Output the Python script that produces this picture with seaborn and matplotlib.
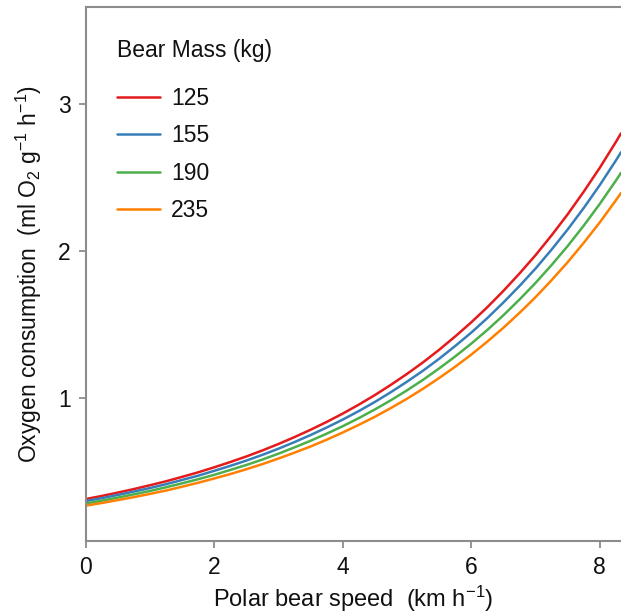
import numpy as np
import pandas as pd
import matplotlib
matplotlib.use("Agg")
import matplotlib.pyplot as plt
import seaborn as sns

# Data
speed = [0, 0.25, 0.5, 0.75, 1, 1.25, 1.5, 1.75, 2, 2.25, 2.5, 2.75, 3, 3.25, 3.5,
         3.75, 4, 4.25, 4.5, 4.75, 5, 5.25, 5.5, 5.75, 6, 6.25, 6.5, 6.75, 7, 7.25,
         7.5, 7.75, 8, 8.25, 8.33]
vo2_125 = [0.311, 0.332, 0.355, 0.379, 0.405, 0.432, 0.462, 0.493, 0.527, 0.563,
           0.601, 0.642, 0.686, 0.733, 0.783, 0.836, 0.893, 0.954, 1.019, 1.089,
           1.163, 1.242, 1.327, 1.418, 1.514, 1.617, 1.728, 1.846, 1.971, 2.106,
           2.249, 2.403, 2.566, 2.741, 2.800]
vo2_155 = [0.297, 0.317, 0.339, 0.362, 0.386, 0.412, 0.441, 0.470, 0.503, 0.537,
           0.573, 0.612, 0.654, 0.699, 0.747, 0.798, 0.852, 0.910, 0.972, 1.039,
           1.110, 1.185, 1.266, 1.353, 1.444, 1.543, 1.649, 1.761, 1.880, 2.009,
           2.146, 2.292, 2.448, 2.615, 2.671]
vo2_190 = [0.281, 0.300, 0.321, 0.343, 0.366, 0.391, 0.418, 0.446, 0.476, 0.509,
           0.543, 0.580, 0.620, 0.663, 0.708, 0.756, 0.807, 0.862, 0.921, 0.984,
           1.051, 1.123, 1.200, 1.282, 1.369, 1.462, 1.562, 1.669, 1.782, 1.904,
           2.033, 2.172, 2.320, 2.478, 2.531]
vo2_235 = [0.266, 0.284, 0.304, 0.324, 0.346, 0.369, 0.395, 0.422, 0.451, 0.481,
           0.514, 0.549, 0.587, 0.627, 0.669, 0.715, 0.764, 0.816, 0.871, 0.931,
           0.994, 1.062, 1.135, 1.212, 1.294, 1.383, 1.477, 1.578, 1.685, 1.801,
           1.923, 2.055, 2.194, 2.344, 2.394]
masses = ["125", "155", "190", "235"]
colors = ["#E41A1C", "#377EB8", "#4DAF4A", "#FF7F00"]
x_ticks = [0, 2, 4, 6, 8]
y_ticks = [1, 2, 3]

series = [vo2_125, vo2_155, vo2_190, vo2_235]
df = pd.concat([pd.DataFrame({"speed": speed, "vo2": s, "mass": m})
                for m, s in zip(masses, series)], ignore_index=True)

sns.set_style("ticks")
plt.rcParams["font.family"] = ["Liberation Sans", "DejaVu Sans"]
plt.rcParams["mathtext.default"] = "regular"

fig = plt.figure(figsize=(6.21, 6.15), dpi=100)
ax = fig.add_axes([86 / 621, 1 - 541 / 615, 1 - 86 / 621, (541 - 7) / 615])

sns.lineplot(data=df, x="speed", y="vo2", hue="mass", hue_order=masses,
             palette=dict(zip(masses, colors)), linewidth=1.8, ax=ax)

ax.set_xlim(0, 8.33)
ax.set_ylim(0.025, 3.66)
ax.set_xticks(x_ticks)
ax.set_yticks(y_ticks)

gray = "#8c8c8c"
for side in ["left", "bottom", "top"]:
    ax.spines[side].set_color(gray)
    ax.spines[side].set_linewidth(1.5)
ax.spines["right"].set_visible(False)
ax.tick_params(axis="both", direction="out", length=5, width=1.3, color=gray,
               labelsize=16.5, pad=6, labelcolor="#111111")

ax.set_xlabel("Polar bear speed  (km h$^{-1}$)", fontsize=17, color="#111111", labelpad=3)
ax.set_ylabel("Oxygen consumption  (ml O$_2$ g$^{-1}$ h$^{-1}$)", fontsize=16.5,
              color="#111111", labelpad=10)

leg = ax.legend(title="Bear Mass (kg)", loc="upper left", frameon=False,
                fontsize=16.5, title_fontsize=16.5, handlelength=1.85,
                handletextpad=0.5, labelspacing=0.63,
                bbox_to_anchor=(0.02, 0.979), alignment="left")
leg._legend_box.sep = 18
for t in leg.get_texts():
    t.set_color("#111111")
leg.get_title().set_color("#111111")

fig.savefig("out.png", dpi=100)
